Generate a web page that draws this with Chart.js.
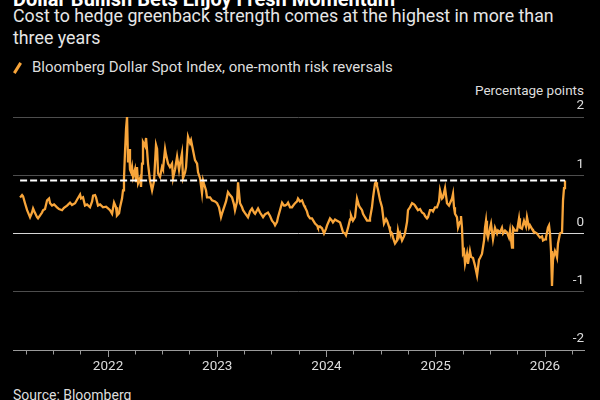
<!DOCTYPE html>
<html>
<head>
<meta charset="utf-8">
<script src="https://cdn.jsdelivr.net/npm/chart.js@4.4.1/dist/chart.umd.min.js"></script>
<style>
  html, body {
    margin: 0;
    padding: 0;
    background: #000;
  }
  body {
    position: relative;
    width: 600px;
    height: 400px;
    overflow: hidden;
    font-family: Roboto, 'Noto Sans', sans-serif;
    color: #e6e6e6;
  }
  .txt {
    position: absolute;
    white-space: nowrap;
  }
  #title {
    left: 13px;
    top: -11px;
    font-size: 20px;
    line-height: 20px;
    font-weight: bold;
    color: #fff;
  }
  #subtitle {
    left: 13px;
    top: 5px;
    width: 575px;
    white-space: normal;
    font-size: 17.8px;
    line-height: 22px;
  }
  #legend {
    left: 32px;
    top: 59px;
    font-size: 15px;
    line-height: 16px;
    color: #ddd;
  }
  #legendIcon {
    position: absolute;
    left: 16px;
    top: 62px;
    width: 3px;
    height: 12px;
    background: #f8a53a;
    transform: rotate(32deg);
  }
  #unit {
    right: 16px;
    top: 82px;
    font-size: 13.5px;
    line-height: 16px;
    color: #ddd;
  }
  #source {
    left: 13px;
    top: 387px;
    font-size: 14px;
    line-height: 16px;
    color: #ddd;
  }
  #chartBox {
    position: absolute;
    left: 0;
    top: 96px;
    width: 600px;
    height: 284px;
  }
</style>
</head>
<body>
<div id="title" class="txt">Dollar Bullish Bets Enjoy Fresh Momentum</div>
<div id="subtitle" class="txt">Cost to hedge greenback strength comes at the highest in more than three years</div>
<span id="legendIcon"></span>
<div id="legend" class="txt">Bloomberg Dollar Spot Index, one-month risk reversals</div>
<div id="unit" class="txt">Percentage points</div>
<div id="chartBox"><canvas id="RiskReversalChart"></canvas></div>
<div id="source" class="txt">Source: Bloomberg</div>

<script>
// dates as decimal years
const years = [
  2021.195, 2021.213, 2021.222, 2021.240, 2021.259, 2021.277, 2021.286, 2021.304, 2021.314, 2021.332,
  2021.350, 2021.359, 2021.378, 2021.396, 2021.405, 2021.423, 2021.442, 2021.460, 2021.469, 2021.487,
  2021.506, 2021.533, 2021.551, 2021.579, 2021.597, 2021.625, 2021.652, 2021.670, 2021.698, 2021.716,
  2021.744, 2021.753, 2021.771, 2021.789, 2021.808, 2021.835, 2021.854, 2021.863, 2021.881, 2021.890,
  2021.908, 2021.927, 2021.954, 2021.982, 2022.000, 2022.018, 2022.037, 2022.055, 2022.073, 2022.082,
  2022.101, 2022.110, 2022.128, 2022.137, 2022.146, 2022.156, 2022.165, 2022.174, 2022.183, 2022.192,
  2022.201, 2022.211, 2022.220, 2022.229, 2022.247, 2022.256, 2022.265, 2022.275, 2022.293, 2022.302,
  2022.311, 2022.320, 2022.339, 2022.348, 2022.357, 2022.366, 2022.384, 2022.403, 2022.421, 2022.439,
  2022.449, 2022.458, 2022.476, 2022.494, 2022.503, 2022.522, 2022.531, 2022.549, 2022.567, 2022.586,
  2022.595, 2022.613, 2022.632, 2022.650, 2022.659, 2022.677, 2022.686, 2022.705, 2022.714, 2022.732,
  2022.751, 2022.760, 2022.778, 2022.796, 2022.815, 2022.824, 2022.842, 2022.860, 2022.870, 2022.879,
  2022.897, 2022.906, 2022.934, 2022.952, 2022.979, 2022.998, 2023.016, 2023.034, 2023.043, 2023.062,
  2023.080, 2023.098, 2023.117, 2023.135, 2023.153, 2023.162, 2023.181, 2023.190, 2023.208, 2023.227,
  2023.236, 2023.254, 2023.281, 2023.300, 2023.318, 2023.336, 2023.346, 2023.364, 2023.373, 2023.391,
  2023.419, 2023.437, 2023.464, 2023.483, 2023.501, 2023.519, 2023.529, 2023.547, 2023.556, 2023.574,
  2023.593, 2023.611, 2023.620, 2023.638, 2023.648, 2023.666, 2023.684, 2023.703, 2023.712, 2023.730,
  2023.739, 2023.757, 2023.776, 2023.794, 2023.803, 2023.821, 2023.831, 2023.849, 2023.867, 2023.886,
  2023.895, 2023.913, 2023.922, 2023.940, 2023.959, 2023.977, 2023.995, 2024.005, 2024.023, 2024.032,
  2024.050, 2024.059, 2024.078, 2024.096, 2024.114, 2024.124, 2024.142, 2024.151, 2024.169, 2024.178,
  2024.197, 2024.215, 2024.224, 2024.242, 2024.261, 2024.279, 2024.297, 2024.307, 2024.325, 2024.334,
  2024.352, 2024.371, 2024.389, 2024.398, 2024.416, 2024.426, 2024.444, 2024.453, 2024.462, 2024.471,
  2024.490, 2024.508, 2024.526, 2024.545, 2024.554, 2024.572, 2024.581, 2024.600, 2024.609, 2024.627,
  2024.645, 2024.654, 2024.664, 2024.673, 2024.691, 2024.709, 2024.718, 2024.737, 2024.746, 2024.764,
  2024.783, 2024.801, 2024.810, 2024.837, 2024.856, 2024.874, 2024.892, 2024.902, 2024.920, 2024.929,
  2024.947, 2024.966, 2024.975, 2024.993, 2025.011, 2025.030, 2025.039, 2025.057, 2025.066, 2025.085,
  2025.094, 2025.103, 2025.121, 2025.130, 2025.149, 2025.158, 2025.167, 2025.176, 2025.194, 2025.204,
  2025.222, 2025.231, 2025.240, 2025.249, 2025.259, 2025.268, 2025.286, 2025.295, 2025.313, 2025.323,
  2025.341, 2025.359, 2025.378, 2025.396, 2025.405, 2025.423, 2025.442, 2025.451, 2025.460, 2025.469,
  2025.478, 2025.497, 2025.506, 2025.524, 2025.542, 2025.561, 2025.570, 2025.588, 2025.606, 2025.616,
  2025.634, 2025.652, 2025.670, 2025.680, 2025.698, 2025.707, 2025.725, 2025.744, 2025.762, 2025.771,
  2025.789, 2025.808, 2025.826, 2025.835, 2025.854, 2025.863, 2025.881, 2025.890, 2025.908, 2025.927,
  2025.945, 2025.954, 2025.973, 2025.982, 2026.000, 2026.009, 2026.027, 2026.037, 2026.046, 2026.055,
  2026.064, 2026.073, 2026.091, 2026.101, 2026.110, 2026.119, 2026.137, 2026.156, 2026.165, 2026.174,
  2026.183
]

// one-month risk reversals, percentage points
const riskReversals = [
  0.62, 0.66, 0.64, 0.52, 0.40, 0.32, 0.28, 0.36, 0.43, 0.35,
  0.28, 0.26, 0.31, 0.36, 0.40, 0.42, 0.57, 0.60, 0.52, 0.48,
  0.50, 0.45, 0.42, 0.40, 0.44, 0.48, 0.53, 0.49, 0.52, 0.58,
  0.67, 0.60, 0.62, 0.48, 0.50, 0.45, 0.55, 0.65, 0.66, 0.62,
  0.48, 0.50, 0.45, 0.46, 0.43, 0.40, 0.34, 0.53, 0.45, 0.31,
  0.35, 0.45, 0.60, 0.74, 0.95, 1.43, 1.80, 2.00, 1.22, 1.45,
  1.10, 1.05, 1.14, 0.97, 1.10, 0.90, 1.14, 0.86, 0.95, 0.80,
  1.20, 1.57, 1.50, 1.64, 1.43, 1.20, 0.91, 0.74, 0.90, 1.52,
  1.45, 1.03, 0.97, 1.14, 1.10, 1.45, 1.35, 1.20, 1.14, 1.20,
  0.95, 1.10, 1.32, 1.09, 1.20, 1.38, 0.95, 1.05, 1.14, 1.66,
  1.55, 1.60, 1.43, 1.26, 1.20, 1.05, 0.95, 0.69, 0.91, 0.85,
  0.74, 0.62, 0.62, 0.57, 0.55, 0.52, 0.45, 0.28, 0.34, 0.45,
  0.55, 0.71, 0.66, 0.62, 0.50, 0.40, 0.55, 0.88, 0.52, 0.45,
  0.40, 0.35, 0.28, 0.38, 0.43, 0.36, 0.34, 0.40, 0.43, 0.36,
  0.28, 0.33, 0.36, 0.30, 0.22, 0.18, 0.14, 0.20, 0.28, 0.40,
  0.53, 0.48, 0.48, 0.50, 0.53, 0.45, 0.45, 0.50, 0.52, 0.55,
  0.60, 0.55, 0.57, 0.48, 0.45, 0.38, 0.31, 0.26, 0.26, 0.20,
  0.17, 0.14, 0.10, 0.12, 0.09, 0.00, 0.08, 0.14, 0.22, 0.26,
  0.22, 0.19, 0.24, 0.22, 0.20, 0.19, 0.08, 0.02, 0.00, -0.03,
  0.10, 0.24, 0.31, 0.22, 0.28, 0.60, 0.48, 0.45, 0.40, 0.34,
  0.28, 0.22, 0.22, 0.26, 0.45, 0.62, 0.86, 0.88, 0.82, 0.75,
  0.57, 0.45, 0.17, 0.25, 0.22, 0.12, 0.05, 0.00, -0.07, -0.17,
  -0.12, 0.05, -0.05, 0.00, -0.12, -0.05, 0.00, 0.20, 0.40, 0.45,
  0.52, 0.50, 0.48, 0.40, 0.42, 0.36, 0.34, 0.30, 0.26, 0.28,
  0.40, 0.40, 0.38, 0.45, 0.45, 0.55, 0.74, 0.60, 0.62, 0.78,
  0.65, 0.52, 0.48, 0.52, 0.60, 0.68, 0.45, 0.34, 0.28, 0.10,
  0.20, 0.30, 0.10, -0.34, -0.30, -0.52, -0.35, -0.52, -0.30, -0.40,
  -0.42, -0.55, -0.72, -0.45, -0.42, -0.35, -0.12, 0.10, 0.22, 0.00,
  -0.07, 0.10, 0.17, -0.10, 0.10, 0.00, 0.05, 0.02, 0.10, 0.00,
  0.05, 0.02, -0.07, 0.05, -0.24, 0.10, 0.05, 0.05, 0.26, 0.10,
  0.08, 0.22, 0.12, 0.28, 0.10, 0.14, 0.08, 0.05, 0.02, 0.00,
  -0.05, -0.07, -0.05, -0.12, -0.10, -0.07, 0.10, 0.14, 0.00, -0.30,
  -0.90, -0.45, -0.30, -0.35, -0.41, -0.17, 0.00, 0.02, 0.57, 0.78,
  0.91
]

const yTicks = [-2, -1, 0, 1, 2]
const xRange = [2021.13, 2026.357]

const seriesPoints = years.map((yr, i) => ({ x: yr, y: riskReversals[i] }))

// dashed reference line at the latest reading
const latest = riskReversals[riskReversals.length - 1]
const latestLine = [
  { x: years[0], y: latest },
  { x: years[years.length - 1], y: latest }
]

const ctx = document.getElementById('RiskReversalChart')

new Chart(ctx, {
  type: 'line',
  data: {
    datasets: [
      {
        label: 'Latest level',
        data: latestLine,
        borderColor: '#ffffff',
        borderWidth: 2,
        borderDash: [7, 3],
        pointRadius: 0
      },
      {
        label: 'Bloomberg Dollar Spot Index, one-month risk reversals',
        data: seriesPoints,
        borderColor: '#f8a53a',
        borderWidth: 2.3,
        pointRadius: 0,
        tension: 0
      }
    ]
  },
  options: {
    responsive: true,
    maintainAspectRatio: false,
    animation: false,
    layout: {
      padding: { left: 13, right: 16, top: 21, bottom: 0 }
    },
    plugins: {
      legend: { display: false },
      tooltip: { enabled: false },
      title: { display: false }
    },
    scales: {
      x: {
        type: 'linear',
        min: xRange[0],
        max: xRange[1],
        afterFit: function (axis) {
          axis.height = 30
        },
        border: {
          display: true,
          color: '#9a9a9a',
          width: 1
        },
        grid: {
          drawOnChartArea: false,
          drawTicks: true,
          tickLength: 7,
          tickColor: '#9a9a9a',
          // quarters get a short tick, years a long one
          tickBorderDash: function (context) {
            return Number.isInteger(context.tick.value) ? [] : [3.5, 20]
          }
        },
        ticks: {
          stepSize: 0.25,
          includeBounds: false,
          autoSkip: false,
          maxRotation: 0,
          padding: 2,
          color: '#dddddd',
          font: { family: 'Roboto', size: 13.5 },
          callback: function (value) {
            return Number.isInteger(value) ? String(value) : ''
          }
        }
      },
      y: {
        position: 'right',
        min: yTicks[0],
        max: yTicks[yTicks.length - 1],
        afterFit: function (axis) {
          axis.width = 0
        },
        afterBuildTicks: function (axis) {
          axis.ticks = yTicks.map((v) => ({ value: v }))
        },
        border: { display: false },
        grid: {
          drawTicks: false,
          lineWidth: 1,
          color: function (context) {
            const v = context.tick.value
            if (v === 0) return '#d6d6d6'
            if (v === -2) return '#9a9a9a'
            return '#4d4d4d'
          }
        },
        ticks: {
          mirror: true,
          padding: 0,
          labelOffset: -11,
          color: '#dddddd',
          font: { family: 'Roboto', size: 13.5 },
          callback: function (value) {
            return String(value)
          }
        }
      }
    }
  }
})
</script>
</body>
</html>
